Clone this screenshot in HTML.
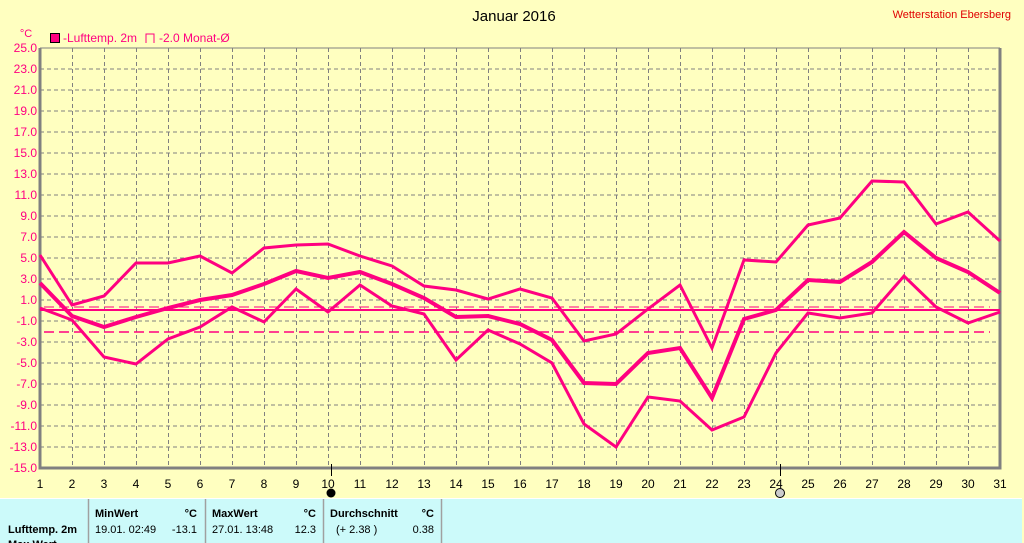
<!DOCTYPE html>
<html><head><meta charset="utf-8"><style>
body{margin:0;width:1024px;height:543px;overflow:hidden;background:#ffffc0;font-family:"Liberation Sans",sans-serif}
svg{position:absolute;left:0;top:0}
</style></head><body>
<svg width="1024" height="543" viewBox="0 0 1024 543" font-family="Liberation Sans, sans-serif">
<rect width="1024" height="543" fill="#ffffc0"/>
<text x="514" y="21" font-size="15" text-anchor="middle" fill="#000">Januar 2016</text>
<text x="1011" y="18" font-size="11" text-anchor="end" fill="#e00000">Wetterstation Ebersberg</text>
<text x="26" y="37" font-size="11" text-anchor="middle" fill="#ff0080">°C</text>
<rect x="50.5" y="33.5" width="9" height="9" fill="#ff0080" stroke="#000"/>
<text x="63" y="42" font-size="12" fill="#ff0080">-Lufttemp. 2m</text>
<path d="M146 43V34H154V43" fill="none" stroke="#ff0080"/>
<text x="159" y="42" font-size="12" fill="#ff0080">-2.0 Monat-Ø</text>
<g stroke="#808080" stroke-dasharray="4,3" stroke-width="1">
<path d="M40 69H1000M40 90H1000M40 111H1000M40 132H1000M40 153H1000M40 174H1000M40 195H1000M40 216H1000M40 237H1000M40 258H1000M40 279H1000M40 300H1000M40 321H1000M40 342H1000M40 363H1000M40 384H1000M40 405H1000M40 426H1000M40 447H1000"/>
<path d="M72.5 48V468M104.5 48V468M136.5 48V468M168.5 48V468M200.5 48V468M232.5 48V468M264.5 48V468M296.5 48V468M328.5 48V468M360.5 48V468M392.5 48V468M424.5 48V468M456.5 48V468M488.5 48V468M520.5 48V468M552.5 48V468M584.5 48V468M616.5 48V468M648.5 48V468M680.5 48V468M712.5 48V468M744.5 48V468M776.5 48V468M808.5 48V468M840.5 48V468M872.5 48V468M904.5 48V468M936.5 48V468M968.5 48V468"/>
</g>
<path d="M40 48V468H1000V48" fill="none" stroke="#808080" stroke-width="3"/>
<line x1="40" y1="48" x2="1000" y2="48" stroke="#808080" stroke-width="1"/>
<g stroke="#ff0080" fill="none">
<line x1="40" y1="310" x2="1000" y2="310" stroke-width="2"/>
<line x1="44" y1="307" x2="990" y2="307" stroke-dasharray="10,5" stroke-width="1"/>
<line x1="44" y1="332" x2="990" y2="332" stroke-dasharray="10,5" stroke-width="1.5"/>
<polyline stroke-width="3" points="40,255 72,305 104,296 136,263 168,263 200,256 232,273 264,248 296,245 328,244 360,256 392,266 424,286 456,290 488,299 520,289 552,298 584,341 616,334 648,309 680,285 712,348 744,260 776,262 808,225 840,218 872,181 904,182 936,224 968,212 1000,241"/>
<polyline stroke-width="4" points="40,283 72,316 104,327 136,317 168,308 200,300 232,295 264,284 296,271 328,278 360,272 392,284 424,298 456,317 488,316 520,324 552,340 584,383 616,384 648,353 680,348 712,398 744,319 776,310 808,280 840,282 872,262 904,232 936,258 968,272 1000,293"/>
<polyline stroke-width="3" points="40,308 72,320 104,357 136,364 168,339 200,327 232,307 264,322 296,289 328,312 360,285 392,306 424,314 456,360 488,330 520,344 552,363 584,424 616,447 648,397 680,401 712,430 744,417 776,353 808,313 840,318 872,313 904,276 936,307 968,323 1000,312"/>
</g>
<g font-size="12" fill="#ff0080" text-anchor="end">
<text x="37" y="52">25.0</text><text x="37" y="73">23.0</text><text x="37" y="94">21.0</text><text x="37" y="115">19.0</text><text x="37" y="136">17.0</text><text x="37" y="157">15.0</text><text x="37" y="178">13.0</text><text x="37" y="199">11.0</text><text x="37" y="220">9.0</text><text x="37" y="241">7.0</text><text x="37" y="262">5.0</text><text x="37" y="283">3.0</text><text x="37" y="304">1.0</text><text x="37" y="325">-1.0</text><text x="37" y="346">-3.0</text><text x="37" y="367">-5.0</text><text x="37" y="388">-7.0</text><text x="37" y="409">-9.0</text><text x="37" y="430">-11.0</text><text x="37" y="451">-13.0</text><text x="37" y="472">-15.0</text>
</g>
<g font-size="12" fill="#000" text-anchor="middle">
<text x="40" y="488">1</text><text x="72" y="488">2</text><text x="104" y="488">3</text><text x="136" y="488">4</text><text x="168" y="488">5</text><text x="200" y="488">6</text><text x="232" y="488">7</text><text x="264" y="488">8</text><text x="296" y="488">9</text><text x="328" y="488">10</text><text x="360" y="488">11</text><text x="392" y="488">12</text><text x="424" y="488">13</text><text x="456" y="488">14</text><text x="488" y="488">15</text><text x="520" y="488">16</text><text x="552" y="488">17</text><text x="584" y="488">18</text><text x="616" y="488">19</text><text x="648" y="488">20</text><text x="680" y="488">21</text><text x="712" y="488">22</text><text x="744" y="488">23</text><text x="776" y="488">24</text><text x="808" y="488">25</text><text x="840" y="488">26</text><text x="872" y="488">27</text><text x="904" y="488">28</text><text x="936" y="488">29</text><text x="968" y="488">30</text><text x="1000" y="488">31</text>
</g>
<line x1="331.5" y1="464" x2="331.5" y2="476" stroke="#000"/>
<circle cx="331" cy="493" r="4.5" fill="#000"/>
<line x1="780.5" y1="464" x2="780.5" y2="476" stroke="#000"/>
<circle cx="780" cy="493" r="4.5" fill="#ccc" stroke="#000"/>
<rect x="0" y="499" width="1022" height="44" fill="#ccfafa"/>
<line x1="0" y1="498.5" x2="1022" y2="498.5" stroke="#fff"/>
<g stroke="#a0a0a0" stroke-width="1.5"><line x1="88.5" y1="499" x2="88.5" y2="543"/><line x1="205.5" y1="499" x2="205.5" y2="543"/><line x1="323.5" y1="499" x2="323.5" y2="543"/><line x1="441.5" y1="499" x2="441.5" y2="543"/></g>
<g font-size="11" fill="#000">
<text x="95" y="517" font-weight="bold">MinWert</text><text x="197" y="517" font-weight="bold" text-anchor="end">°C</text>
<text x="212" y="517" font-weight="bold">MaxWert</text><text x="316" y="517" font-weight="bold" text-anchor="end">°C</text>
<text x="330" y="517" font-weight="bold">Durchschnitt</text><text x="434" y="517" font-weight="bold" text-anchor="end">°C</text>
<text x="8" y="533" font-weight="bold">Lufttemp. 2m</text>
<text x="95" y="533">19.01.  02:49</text><text x="197" y="533" text-anchor="end">-13.1</text>
<text x="212" y="533">27.01.  13:48</text><text x="316" y="533" text-anchor="end">12.3</text>
<text x="336" y="533">(+ 2.38 )</text><text x="434" y="533" text-anchor="end">0.38</text>
<text x="8" y="548" font-weight="bold">Max Wert</text>
</g>
</svg>
</body></html>
